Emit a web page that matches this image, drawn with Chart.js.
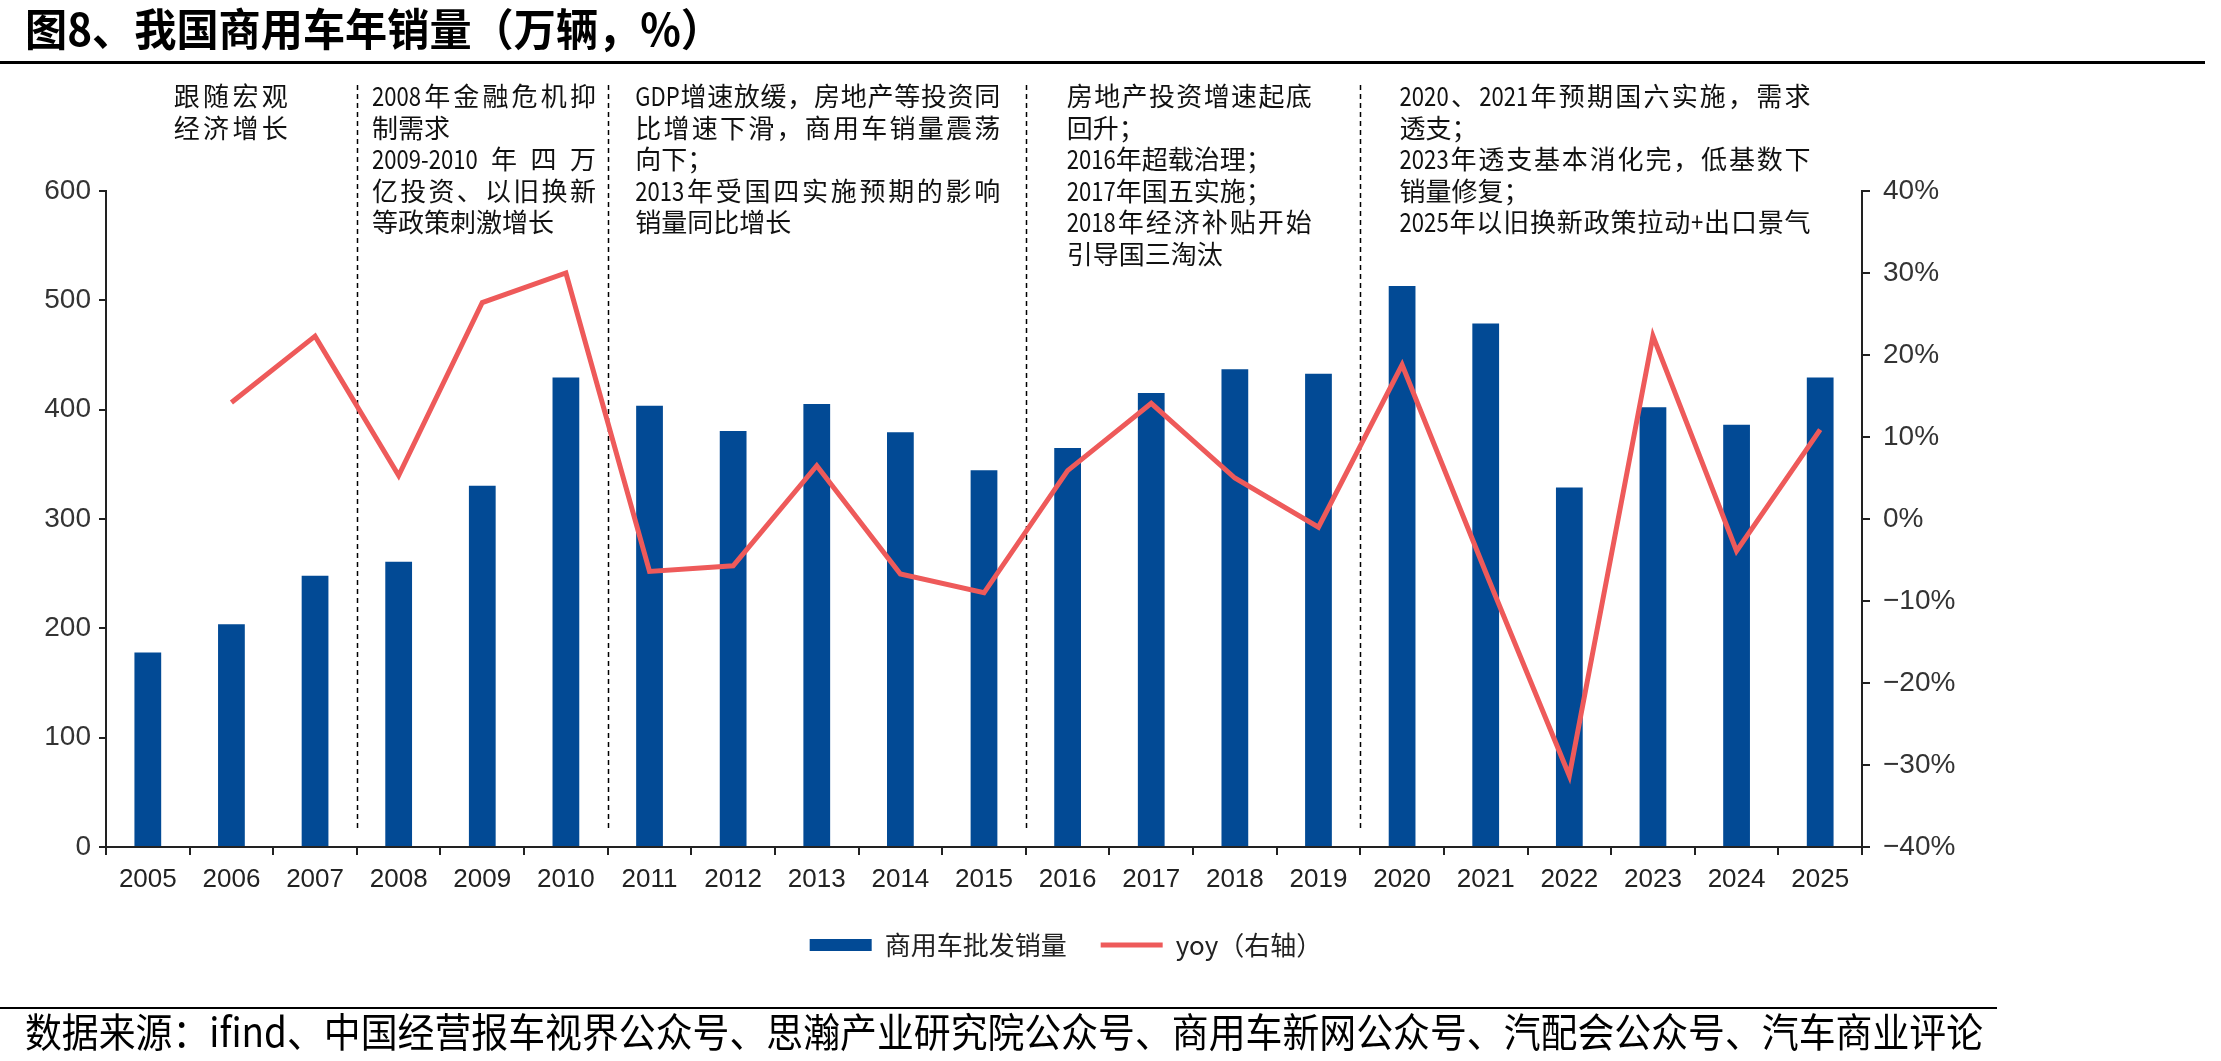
<!DOCTYPE html>
<html>
<head>
<meta charset="utf-8">
<script src="https://cdn.jsdelivr.net/npm/chart.js@4.4.1/dist/chart.umd.min.js"></script>
<style>
  html, body { margin: 0; padding: 0; background: #fff; overflow: hidden; }
  canvas { display: block; }
</style>
</head>
<body>
<canvas id="salesChart" width="2221" height="1061" style="width:2221px;height:1061px"></canvas>
<script>
// chart data
const years = ['2005', '2006', '2007', '2008', '2009', '2010', '2011', '2012', '2013', '2014', '2015',
               '2016', '2017', '2018', '2019', '2020', '2021', '2022', '2023', '2024', '2025'];
const sales = [178.0, 203.8, 248.1, 261.0, 330.4, 429.4, 403.6, 380.5, 405.1, 379.3, 344.5,
               364.9, 415.3, 436.9, 432.8, 513.2, 478.7, 328.9, 402.1, 386.2, 429.4];
const yoy = [null, 14.2, 22.3, 5.3, 26.4, 30.0, -6.4, -5.7, 6.5, -6.7, -9.0,
             5.9, 14.1, 5.0, -1.0, 18.8, -6.5, -31.3, 22.3, -3.9, 10.9];
const leftTicks = [0, 100, 200, 300, 400, 500, 600];
const rightTicks = [-40, -30, -20, -10, 0, 10, 20, 30, 40];

const titleText = '图8、我国商用车年销量（万辆，%）';
const sourceText = '数据来源：ifind、中国经营报车视界公众号、思瀚产业研究院公众号、商用车新网公众号、汽配会公众号、汽车商业评论';

// period notes, split after these category indexes
const splitAfter = [2, 5, 10, 14];
const notes = [
    ['跟随宏观', '经济增长'],
    ['2008年金融危机抑', '制需求', '2009-2010年四万', '亿投资、以旧换新', '等政策刺激增长'],
    ['GDP增速放缓，房地产等投资同', '比增速下滑，商用车销量震荡', '向下；', '2013年受国四实施预期的影响', '销量同比增长'],
    ['房地产投资增速起底', '回升；', '2016年超载治理；', '2017年国五实施；', '2018年经济补贴开始', '引导国三淘汰'],
    ['2020、2021年预期国六实施，需求', '透支；', '2023年透支基本消化完，低基数下', '销量修复；', '2025年以旧换新政策拉动+出口景气']
];
// layout of each note block: left edge in category units, box width, justified lines
const noteLayout = [
    { at: 0.31, w: 114, justify: [1, 1] },
    { at: 2.68, w: 224, justify: [1, 0, 1, 1, 0] },
    { at: 5.83, w: 365, justify: [1, 1, 0, 1, 0] },
    { at: 10.99, w: 245, justify: [1, 0, 0, 0, 1, 0] },
    { at: 14.97, w: 411, justify: [1, 0, 1, 0, 1] }
];

const noteFont = '26px "Noto Sans CJK SC"';

// split a line into units: ascii runs stay together, each CJK char is its own unit
function units(text) {
    const out = [];
    let buf = '';
    for (const ch of Array.from(text)) {
        if (/[A-Za-z0-9\-+.]/.test(ch)) { buf += ch; }
        else { if (buf) { out.push(buf); buf = ''; } out.push(ch); }
    }
    if (buf) out.push(buf);
    return out;
}

function drawNoteLine(ctx, text, x, y, w, justify) {
    const parts = units(text);
    const asciiScale = 0.85;
    const widths = parts.map(p => ctx.measureText(p).width * (/^[\x00-\x7f]+$/.test(p) ? asciiScale : 1));
    const total = widths.reduce((a, b) => a + b, 0);
    let gap = 0, squeeze = 1;
    if (total > w) squeeze = w / total;
    else if (justify && parts.length > 1) gap = (w - total) / (parts.length - 1);
    let cx = x;
    parts.forEach((p, i) => {
        const ascii = /^[\x00-\x7f]+$/.test(p);
        ctx.save();
        ctx.translate(cx, y);
        ctx.scale((ascii ? asciiScale : 1) * squeeze, 1);
        ctx.fillText(p, 0, 0);
        ctx.restore();
        cx += widths[i] * squeeze + gap;
    });
}

const decorPlugin = {
    id: 'decor',
    beforeDatasetsDraw(chart) {
        const { ctx, chartArea, scales: { x } } = chart;
        ctx.save();
        ctx.strokeStyle = '#000';
        ctx.lineWidth = 1.5;
        ctx.setLineDash([5, 4]);
        splitAfter.forEach(i => {
            const px = Math.round((x.getPixelForValue(i) + x.getPixelForValue(i + 1)) / 2) + 0.5;
            ctx.beginPath();
            ctx.moveTo(px, chartArea.top - 106);
            ctx.lineTo(px, chartArea.bottom - 15);
            ctx.stroke();
        });
        ctx.restore();
    },
    afterDraw(chart) {
        const { ctx, chartArea, scales: { x } } = chart;
        ctx.save();
        ctx.fillStyle = '#000';
        ctx.textAlign = 'left';
        ctx.textBaseline = 'middle';

        // title + rule
        ctx.font = 'bold 44px "Noto Sans CJK SC"';
        ctx.fillText(titleText, 25, 29, 698);
        ctx.fillRect(0, 61, 2205, 3);

        // source + rule
        ctx.fillRect(0, 1007, 1997, 2);
        ctx.font = '40px "Noto Sans CJK SC"';
        ctx.fillText(sourceText, 25, 1032, 1958);

        // note blocks
        ctx.font = noteFont;
        ctx.fillStyle = '#111';
        notes.forEach((lines, b) => {
            const lay = noteLayout[b];
            const left = x.getPixelForValue(lay.at);
            lines.forEach((line, k) => {
                const y = chartArea.top - 94.5 + k * 31.5;
                drawNoteLine(ctx, line, left, y, lay.w, lay.justify[k]);
            });
        });
        ctx.restore();
    }
};

const ctx = document.getElementById('salesChart').getContext('2d');

const config = {
    type: 'bar',
    data: {
        labels: years,
        datasets: [{
            label: '商用车批发销量',
            data: sales,
            backgroundColor: '#024A95',
            borderWidth: 0,
            barPercentage: 0.32,
            categoryPercentage: 1,
            yAxisID: 'y',
            order: 1
        }, {
            type: 'line',
            label: 'yoy（右轴）',
            data: yoy,
            borderColor: '#EE5A5A',
            backgroundColor: '#EE5A5A',
            borderWidth: 5,
            pointRadius: 0,
            tension: 0,
            yAxisID: 'y1',
            order: 0
        }]
    },
    options: {
        responsive: false,
        animation: false,
        layout: {
            padding: { top: 191, left: 0, right: 89, bottom: 93 }
        },
        scales: {
            x: {
                grid: { offset: true, drawOnChartArea: false, drawTicks: true, tickLength: 8, color: '#222', lineWidth: 2 },
                border: { color: '#222', width: 2 },
                ticks: {
                    font: { family: '"Liberation Sans", Arial', size: 26 },
                    color: '#222',
                    padding: 9,
                    maxRotation: 0,
                    autoSkip: false
                },
                afterFit: (scale) => { scale.height = 51; }
            },
            y: {
                position: 'left',
                min: 0,
                max: 600,
                afterBuildTicks: (scale) => { scale.ticks = leftTicks.map(v => ({ value: v })); },
                grid: { drawOnChartArea: false, drawTicks: true, tickLength: 7, color: '#222', lineWidth: 2 },
                border: { color: '#222', width: 2 },
                ticks: {
                    font: { family: '"Liberation Sans", Arial', size: 28 },
                    color: '#333',
                    padding: 8
                },
                afterFit: (scale) => { scale.width = 106; }
            },
            y1: {
                position: 'right',
                min: -40,
                max: 40,
                afterBuildTicks: (scale) => { scale.ticks = rightTicks.map(v => ({ value: v })); },
                grid: { drawOnChartArea: false, drawTicks: true, tickLength: 8, color: '#222', lineWidth: 2 },
                border: { color: '#222', width: 2 },
                ticks: {
                    font: { family: '"Liberation Sans", Arial', size: 28 },
                    color: '#333',
                    padding: 13,
                    callback: (v) => (v < 0 ? '\u2212' + Math.abs(v) : v) + '%'
                },
                afterFit: (scale) => { scale.width = 270; }
            }
        },
        plugins: {
            legend: {
                display: true,
                position: 'bottom',
                labels: {
                    usePointStyle: true,
                    pointStyleWidth: 62,
                    boxHeight: 12,
                    padding: 34,
                    color: '#222',
                    font: { family: '"Noto Sans CJK SC"', size: 26 },
                    sort: (a, b) => a.datasetIndex - b.datasetIndex,
                    generateLabels: (chart) => {
                        const items = Chart.defaults.plugins.legend.labels.generateLabels(chart);
                        items.forEach(item => {
                            if (item.datasetIndex === 0) {
                                item.pointStyle = 'rect';
                                item.lineWidth = 0;
                            } else {
                                item.pointStyle = 'line';
                                item.strokeStyle = '#EE5A5A';
                                item.lineWidth = 5;
                            }
                        });
                        return items;
                    }
                }
            },
            tooltip: { enabled: false }
        }
    },
    plugins: [decorPlugin]
};

const salesChart = new Chart(ctx, config);
</script>
</body>
</html>
